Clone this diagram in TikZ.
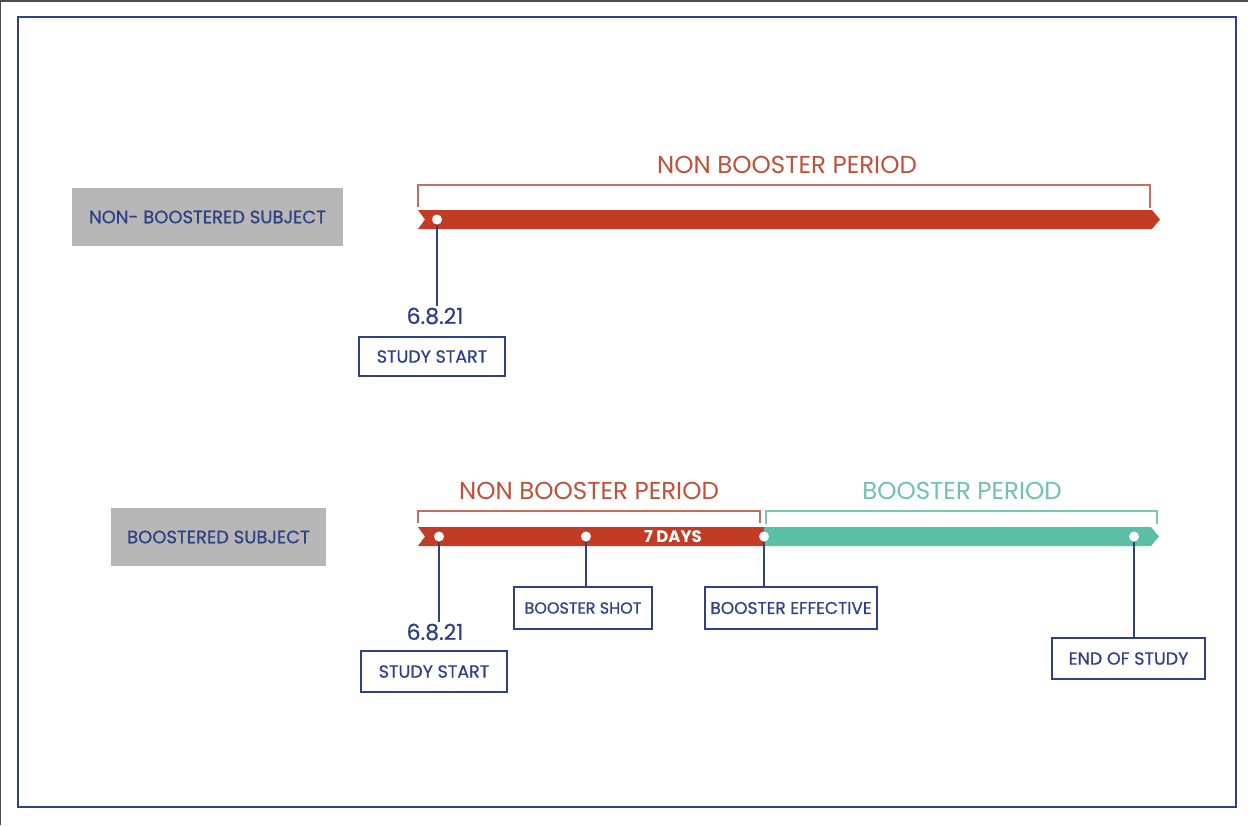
\documentclass[tikz,border=0pt]{standalone}
\usepackage{fontspec}
\setmainfont{Poppins}
\newfontfamily\medfont{Poppins}[FakeBold=0.6]
\definecolor{barred}{HTML}{C33B25}
\definecolor{brred}{HTML}{C56E5C}
\definecolor{teal}{HTML}{5BBFA8}
\definecolor{brteal}{HTML}{7CC6B4}
\definecolor{navy}{HTML}{2F4085}
\definecolor{grayfill}{HTML}{B7B7B7}
\definecolor{titlered}{HTML}{C0503A}
\definecolor{titleteal}{HTML}{6FC2AE}
\begin{document}
\begin{tikzpicture}[x=1pt,y=-1pt,
  labelbox/.style={draw=navy,line width=1.6pt,fill=white,text=navy,inner sep=0pt,font=\medfont\fontsize{17.5}{19}\selectfont},
  subjbox/.style={fill=grayfill,text=navy,inner sep=0pt,font=\medfont\fontsize{18}{20}\selectfont},
  datetext/.style={text=navy,inner sep=1pt,font=\medfont\fontsize{22}{24}\selectfont},
  dot/.style={circle,fill=white,inner sep=0pt,minimum size=10pt},
  conn/.style={draw=navy,line width=1.8pt},
  title/.style={inner sep=0pt,font=\fontsize{24.5}{27}\selectfont},
  bracket/.style={line width=1.5pt}
]
\useasboundingbox (0,0) rectangle (1248,825);
\fill[white] (0,0) rectangle (1248,825);
% screenshot edges
\draw[line width=2pt,black!70] (0,825) -- (0,1) -- (1248,1);
% inner frame
\draw[navy,line width=2pt] (18,17) rectangle (1236,807);

% ---------- top timeline ----------
\node[subjbox,minimum width=271pt,minimum height=58pt] (subj1) at (207.5,217) {NON- BOOSTERED SUBJECT};
\node[title,text=titlered] (t1) at (787,165) {NON BOOSTER PERIOD};
\draw[bracket,brred] (418,207) -- (418,185) -- (1150,185) -- (1150,208);
\fill[barred] (418,210) -- (1152,210) -- (1160,219.5) -- (1152,229) -- (418,229) -- (425,219.5) -- cycle;
\node[dot] (d1) at (437,219.5) {};
\node[datetext] (date1) at (435,316) {6.8.21};
\node[labelbox,minimum width=146pt,minimum height=39pt] (ss1) at (432,356.5) {STUDY START};
\draw[conn] (d1) -- (d1 |- date1.north);

% ---------- bottom timeline ----------
\node[subjbox,minimum width=215pt,minimum height=58pt] (subj2) at (218.5,537) {BOOSTERED SUBJECT};
\node[title,text=titlered] (t2) at (589,491) {NON BOOSTER PERIOD};
\node[title,text=titleteal] (t3) at (962,491) {BOOSTER PERIOD};
\draw[bracket,brred] (418,523) -- (418,511) -- (760,511) -- (760,523);
\draw[bracket,brteal] (766,524) -- (766,511) -- (1157,511) -- (1157,524);
\fill[barred] (418,527) -- (764,527) -- (764,546) -- (418,546) -- (425,536.5) -- cycle;
\fill[teal] (764,527) -- (1151,527) -- (1159,536.5) -- (1151,546) -- (764,546) -- cycle;
\node[text=white,inner sep=0pt,font=\bfseries\fontsize{16.5}{18}\selectfont] (days) at (673,537) {7 DAYS};
\node[dot] (d2) at (439,536.5) {};
\node[dot] (d3) at (586,536.5) {};
\node[dot] (d4) at (764,536.5) {};
\node[dot] (d5) at (1134,536.5) {};
\node[datetext] (date2) at (435,632) {6.8.21};
\node[labelbox,minimum width=146pt,minimum height=41pt] (ss2) at (434,671.5) {STUDY START};
\node[labelbox,minimum width=138pt,minimum height=42pt,font=\medfont\fontsize{16}{18}\selectfont] (shot) at (583,608) {BOOSTER SHOT};
\node[labelbox,minimum width=172pt,minimum height=42pt,font=\medfont\fontsize{17}{19}\selectfont] (eff) at (791,608) {BOOSTER EFFECTIVE};
\node[labelbox,minimum width=153pt,minimum height=41pt] (end) at (1128.5,658.5) {END OF STUDY};
\draw[conn] (d2) -- (d2 |- date2.north);
\draw[conn] (d3) -- (d3 |- shot.north);
\draw[conn] (d4) -- (d4 |- eff.north);
\draw[conn] (d5) -- (d5 |- end.north);
\end{tikzpicture}
\end{document}
